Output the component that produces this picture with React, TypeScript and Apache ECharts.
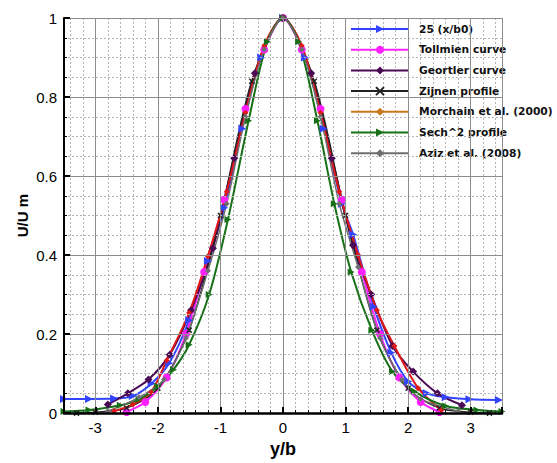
import React, { useEffect, useRef } from "react";
import * as echarts from "echarts";

const names = [
  "25 (x/b0)",
  "Tollmien curve",
  "Geortler curve",
  "Zijnen profile",
  "Morchain et al. (2000)",
  "Sech^2 profile",
  "Aziz et al. (2008)",
];

const blueX = [-3.5, -3.1, -2.7, -2.4, -2.1, -1.82, -1.5, -1.2, -0.94, -0.65, -0.35, 0, 0.35, 0.65, 0.94, 1.12, 1.45, 1.73, 2.0, 2.3, 2.6, 2.98, 3.45];
const blueY = [0.036, 0.036, 0.037, 0.043, 0.075, 0.126, 0.235, 0.385, 0.52, 0.72, 0.9, 1.0, 0.9, 0.72, 0.53, 0.452, 0.27, 0.153, 0.08, 0.05, 0.04, 0.035, 0.033];

const tollX = [-2.5, -2.2, -1.86, -1.55, -1.26, -0.94, -0.6, -0.3, 0, 0.3, 0.6, 0.94, 1.26, 1.55, 1.86, 2.2, 2.5];
const tollY = [0.003, 0.028, 0.09, 0.2, 0.357, 0.54, 0.77, 0.92, 1.0, 0.92, 0.77, 0.54, 0.357, 0.2, 0.09, 0.028, 0.003];

const goertX = [-2.8, -2.48, -2.15, -1.81, -1.47, -1.12, -0.78, -0.45, 0, 0.45, 0.78, 1.12, 1.41, 1.75, 2.08, 2.47, 2.86];
const goertY = [0.022, 0.05, 0.085, 0.148, 0.26, 0.417, 0.645, 0.86, 1.0, 0.86, 0.645, 0.425, 0.3, 0.17, 0.105, 0.05, 0.02];

const zijX = [-3.3, -3.0, -2.5, -2.0, -1.5, -1.0, -0.5, 0, 0.5, 1.0, 1.5, 2.0, 2.5, 3.0, 3.3];
const zijY = [0.0, 0.002, 0.013, 0.063, 0.21, 0.5, 0.84, 1.0, 0.84, 0.5, 0.21, 0.063, 0.013, 0.002, 0.0];

const morX = [-2.7, -2.4, -2.11, -1.86, -1.5, -1.2, -0.9, -0.6, -0.3, 0, 0.3, 0.6, 0.9, 1.2, 1.5, 1.78, 2.16, 2.53];
const morY = [0.005, 0.022, 0.053, 0.133, 0.254, 0.397, 0.56, 0.76, 0.93, 1.0, 0.93, 0.76, 0.56, 0.4, 0.26, 0.17, 0.063, 0.008];

const sechX = [-3.5, -3.1, -2.6, -2.3, -2.0, -1.75, -1.5, -1.18, -0.88, -0.55, -0.25, 0, 0.25, 0.55, 0.82, 1.09, 1.42, 1.75, 2.1, 2.6, 3.1, 3.5];
const sechY = [0.004, 0.008, 0.02, 0.035, 0.068, 0.11, 0.173, 0.3, 0.49, 0.74, 0.94, 1.0, 0.94, 0.74, 0.53, 0.357, 0.21, 0.105, 0.055, 0.018, 0.008, 0.004];

const azizX = [-2.8, -2.3, -1.9, -1.55, -1.2, -0.9, -0.6, -0.3, 0, 0.3, 0.6, 0.9, 1.2, 1.55, 1.9, 2.2, 2.8];
const azizY = [0.005, 0.04, 0.085, 0.19, 0.36, 0.53, 0.75, 0.92, 1.0, 0.92, 0.75, 0.53, 0.37, 0.19, 0.085, 0.036, 0.005];

const pairs = (xs: number[], ys: number[]) => xs.map((x, i) => [x, ys[i]]);

const TRI_RIGHT = "path://M0,0L10,5L0,10Z";
const CROSS = "path://M0,0L10,10M0,10L10,0";

export default function App() {
  const ref = useRef<HTMLDivElement>(null);
  useEffect(() => {
    const chart = echarts.init(ref.current!, null, { renderer: "svg" });
    const mk = (
      name: string,
      xs: number[],
      ys: number[],
      color: string,
      symbol: string,
      symbolSize: number,
      width: number
    ) => ({
      name,
      type: "line",
      data: pairs(xs, ys),
      smooth: 0.3,
      symbol,
      symbolSize,
      showSymbol: true,
      lineStyle: { color, width },
      itemStyle: { color, borderColor: color, borderWidth: symbol === CROSS ? 1.5 : 0 },
      emphasis: { disabled: true },
    });
    const axisFont = "Liberation Sans";
    chart.setOption({
      animation: false,
      backgroundColor: "#ffffff",
      grid: { left: 64, top: 18, right: 55, bottom: 47 },
      legend: {
        left: 350,
        top: 23,
        orient: "vertical",
        padding: 0,
        itemWidth: 58,
        itemHeight: 10,
        itemGap: 8.7,
        selectedMode: false,
        textStyle: {
          fontFamily: "DejaVu Sans",
          fontWeight: "bold",
          fontSize: 10.7,
          color: "#111111",
          lineHeight: 12,
          padding: [0, 0, 0, 5],
        },
        data: [
          names[0],
          names[1],
          names[2],
          names[3],
          { name: names[4], itemStyle: { color: "#c8781e" }, lineStyle: { color: "#c8781e" } },
          names[5],
          names[6],
        ],
      },
      xAxis: [
        {
          type: "value",
          min: -3.5,
          max: 3.5,
          splitNumber: 7,
          name: "y/b",
          nameLocation: "middle",
          nameGap: 22,
          nameTextStyle: { fontFamily: axisFont, fontWeight: "bold", fontSize: 18, color: "#000" },
          axisLine: { show: true, onZero: false, lineStyle: { color: "#000", width: 2.5 } },
          axisTick: { show: true, inside: true, length: 6, lineStyle: { color: "#000", width: 2 } },
          axisLabel: {
            fontFamily: axisFont,
            fontSize: 15,
            color: "#000",
            margin: 7,
            formatter: (v: number) => (Number.isInteger(v) ? String(v) : ""),
          },
          splitLine: { show: true, lineStyle: { color: "#8c8c8c", width: 1 } },
          z: 5,
        },
        {
          type: "value",
          min: -3.5,
          max: 3.5,
          splitNumber: 35,
          position: "bottom",
          axisLine: { show: false },
          axisLabel: { show: false },
          axisTick: { show: true, inside: true, length: 3, lineStyle: { color: "#000", width: 1 } },
          splitLine: { show: true, lineStyle: { color: "#b4b4b4", width: 1, type: [2, 2] } },
          z: 1,
        },
      ],
      yAxis: {
        type: "value",
        min: 0,
        max: 1,
        interval: 0.2,
        name: "U/U m",
        nameLocation: "middle",
        nameGap: 34,
        nameMoveOverlap: false,
        nameTextStyle: { fontFamily: axisFont, fontWeight: "bold", fontSize: 15, color: "#000" },
        axisLine: { show: true, onZero: false, lineStyle: { color: "#000", width: 2 } },
        axisTick: { show: true, inside: true, length: 6, lineStyle: { color: "#000", width: 2 } },
        minorTick: { show: true, splitNumber: 4, length: 3, lineStyle: { color: "#000", width: 1 } },
        axisLabel: { fontFamily: axisFont, fontSize: 15, color: "#000", margin: 7 },
        splitLine: { show: true, lineStyle: { color: "#8c8c8c", width: 1 } },
        minorSplitLine: { show: true, lineStyle: { color: "#b4b4b4", width: 1, type: [2, 2] } },
        z: 5,
      },
      series: [
        mk(names[0], blueX, blueY, "#3344ff", TRI_RIGHT, 8, 2),
        mk(names[1], tollX, tollY, "#ff20ff", "circle", 8, 2),
        mk(names[2], goertX, goertY, "#4b0a55", "diamond", 8, 2),
        mk(names[3], zijX, zijY, "#222222", CROSS, 5, 1.5),
        mk(names[4], morX, morY, "#e01818", "diamond", 6, 2),
        mk(names[5], sechX, sechY, "#177017", TRI_RIGHT, 7, 2),
        mk(names[6], azizX, azizY, "#6e6e6e", "diamond", 6, 1.5),
      ],
    });
    return () => chart.dispose();
  }, []);
  return (
    <div
      ref={ref}
      style={{ position: "absolute", left: 0, top: 0, width: 557, height: 463 }}
    />
  );
}
